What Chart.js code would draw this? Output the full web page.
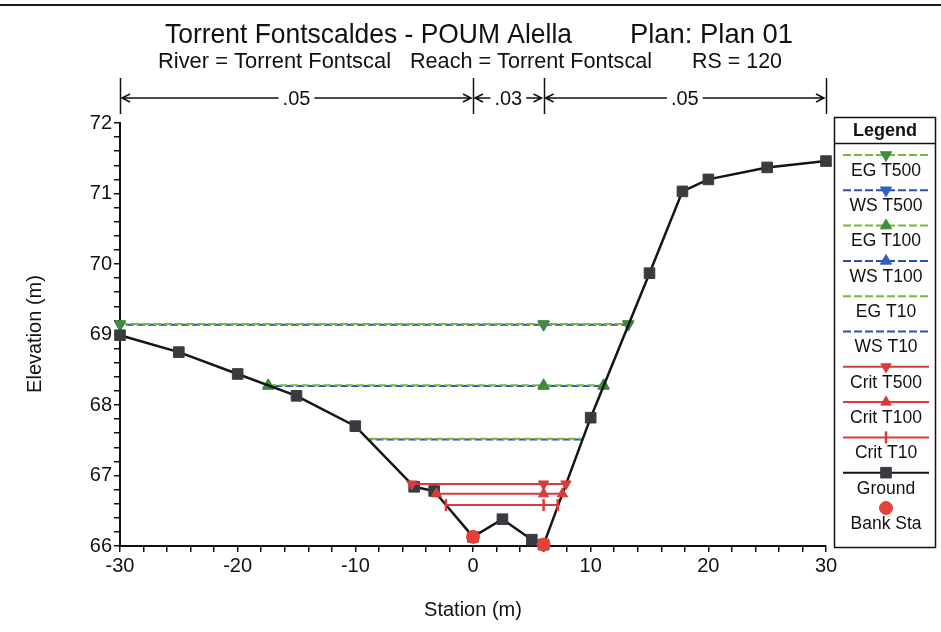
<!DOCTYPE html>
<html>
<head>
<meta charset="utf-8">
<script src="https://cdn.jsdelivr.net/npm/chart.js@4.4.1/dist/chart.umd.min.js"></script>
<style>
  html,body{margin:0;padding:0;background:#fff;}
  canvas{display:block;}
</style>
</head>
<body>
<canvas id="c" width="941" height="632"></canvas>
<script>
// ---------------- DATA ----------------
const titleMain = 'Torrent Fontscaldes - POUM Alella';
const titlePlan = 'Plan: Plan 01';
const subRiver = 'River = Torrent Fontscal';
const subReach = 'Reach = Torrent Fontscal';
const subRS = 'RS = 120';
const xTitle = 'Station (m)';
const yTitle = 'Elevation (m)';

const groundStation = [-30, -25, -20, -15, -10, -5, -3.3, 0, 2.5, 5, 6, 10, 15, 17.8, 20, 25, 30];
const groundElev    = [68.99, 68.75, 68.44, 68.13, 67.70, 66.84, 66.78, 66.13, 66.38, 66.09, 66.02, 67.82, 69.87, 71.03, 71.20, 71.37, 71.46];

const bankStation = [0, 6];
const bankElev    = [66.13, 66.02];

const egT500Station = [-30, 6, 13.2];   const egT500Elev = [69.15, 69.15, 69.15];
const wsT500Station = [-30, 6, 13.2];   const wsT500Elev = [69.14, 69.14, 69.14];
const egT100Station = [-17.4, 6, 11.1]; const egT100Elev = [68.28, 68.28, 68.28];
const wsT100Station = [-17.4, 6, 11.1]; const wsT100Elev = [68.27, 68.27, 68.27];
const egT10Station  = [-8.8, 9.3];      const egT10Elev  = [67.52, 67.52];
const wsT10Station  = [-8.8, 9.3];      const wsT10Elev  = [67.51, 67.51];
const critT500Station = [-5.2, 6, 7.9]; const critT500Elev = [66.88, 66.88, 66.88];
const critT100Station = [-3.1, 6, 7.6]; const critT100Elev = [66.74, 66.74, 66.74];
const critT10Station  = [-2.3, 6, 7.2]; const critT10Elev  = [66.58, 66.58, 66.58];

const nBreaks = [-30, 0, 6, 30];
const nValues = ['.05', '.03', '.05'];

const xMin = -30, xMax = 30, xStep = 2, xLabelEvery = 10;
const yMin = 66, yMax = 72, yStep = 0.2;

// ---------------- STYLES ----------------
const EG_LINE = '#7cb53c', EG_MARK = '#3f8c3a';
const WS_LINE = '#2d4fb4', WS_MARK = '#2f5fc0';
const CRIT = '#d93a3a';
const GROUND = '#151515', GROUND_MARK = '#383c40';
const BANK = '#e3413a';
const FONT = '"Liberation Sans", Arial, sans-serif';

function pts(st, el) { return st.map((s, i) => ({ x: s, y: el[i] })); }

function mk(label, st, el, o) {
  return Object.assign({
    label, data: pts(st, el), showLine: true, borderWidth: 2,
    borderDash: [], pointStyle: false, rotation: 0, pointRadius: 0,
    pointBorderWidth: 1, pointHoverRadius: 0, clip: false
  }, o);
}

const datasets = [
  mk('Bank Sta', bankStation, bankElev, { showLine: false, borderColor: BANK, pointStyle: 'circle', pointRadius: 6.5, pointBackgroundColor: BANK, pointBorderColor: BANK, order: 0 }),
  mk('Crit T500', critT500Station, critT500Elev, { borderColor: CRIT, pointStyle: 'triangle', rotation: 180, pointRadius: 6, pointBackgroundColor: CRIT, pointBorderColor: CRIT, order: 1 }),
  mk('Crit T100', critT100Station, critT100Elev, { borderColor: CRIT, pointStyle: 'triangle', pointRadius: 6, pointBackgroundColor: CRIT, pointBorderColor: CRIT, order: 2 }),
  mk('Crit T10', critT10Station, critT10Elev, { borderColor: CRIT, pointStyle: 'line', rotation: 90, pointRadius: 6, pointBorderWidth: 2.5, pointBackgroundColor: CRIT, pointBorderColor: CRIT, order: 3 }),
  mk('EG T500', egT500Station, egT500Elev, { borderColor: EG_LINE, borderDash: [8, 3], pointStyle: 'triangle', rotation: 180, pointRadius: 6.5, pointBackgroundColor: EG_MARK, pointBorderColor: EG_MARK, order: 5 }),
  mk('WS T500', wsT500Station, wsT500Elev, { borderColor: WS_LINE, borderDash: [8, 3], borderDashOffset: 5, pointStyle: 'triangle', rotation: 180, pointRadius: 6.5, pointBackgroundColor: WS_MARK, pointBorderColor: WS_MARK, order: 6 }),
  mk('EG T100', egT100Station, egT100Elev, { borderColor: EG_LINE, borderDash: [8, 3], pointStyle: 'triangle', pointRadius: 6.5, pointBackgroundColor: EG_MARK, pointBorderColor: EG_MARK, order: 7 }),
  mk('WS T100', wsT100Station, wsT100Elev, { borderColor: WS_LINE, borderDash: [8, 3], borderDashOffset: 5, pointStyle: 'triangle', pointRadius: 6.5, pointBackgroundColor: WS_MARK, pointBorderColor: WS_MARK, order: 8 }),
  mk('EG T10', egT10Station, egT10Elev, { borderColor: EG_LINE, borderDash: [8, 3], order: 9 }),
  mk('WS T10', wsT10Station, wsT10Elev, { borderColor: WS_LINE, borderDash: [8, 3], borderDashOffset: 5, order: 10 }),
  mk('Ground', groundStation, groundElev, { borderColor: GROUND, borderWidth: 2.5, pointStyle: 'rect', pointRadius: 7.5, pointBackgroundColor: GROUND_MARK, pointBorderColor: GROUND_MARK, order: 4 })
];

const legendOrder = ['EG T500', 'WS T500', 'EG T100', 'WS T100', 'EG T10', 'WS T10', 'Crit T500', 'Crit T100', 'Crit T10', 'Ground', 'Bank Sta'];

function drawFit(ctx, text, x, y, size, width, bold) {
  ctx.save();
  ctx.font = (bold ? 'bold ' : '') + size + 'px ' + FONT;
  const w = ctx.measureText(text).width;
  const sx = width ? width / w : 1;
  ctx.translate(x, y);
  ctx.scale(sx, 1);
  ctx.textAlign = 'left';
  ctx.textBaseline = 'middle';
  ctx.fillStyle = '#111';
  ctx.fillText(text, 0, 0);
  ctx.restore();
}

const decor = {
  id: 'decor',
  afterDraw(chart) {
    const ctx = chart.ctx;
    const xs = chart.scales.x;
    const ca = chart.chartArea;
    ctx.save();
    // top border line
    ctx.fillStyle = '#1a1a1a';
    ctx.fillRect(0, 4, 941, 2);

    // titles
    drawFit(ctx, titleMain, 165, 35, 28, 407);
    drawFit(ctx, titlePlan, 630, 35, 28, 163);
    drawFit(ctx, subRiver, 158, 62, 22, 233);
    drawFit(ctx, subReach, 410, 62, 22, 242);
    drawFit(ctx, subRS, 692, 62, 22, 90);

    // Manning n annotation
    const yA = 98;
    ctx.strokeStyle = '#111';
    ctx.fillStyle = '#111';
    ctx.lineWidth = 1.5;
    nBreaks.forEach(b => {
      const px = Math.round(xs.getPixelForValue(b)) + 0.5;
      ctx.beginPath(); ctx.moveTo(px, 78); ctx.lineTo(px, 114); ctx.stroke();
    });
    for (let i = 0; i < nValues.length; i++) {
      const x1 = xs.getPixelForValue(nBreaks[i]) + 2;
      const x2 = xs.getPixelForValue(nBreaks[i + 1]) - 2;
      const c = (x1 + x2) / 2;
      ctx.font = '20px ' + FONT;
      const w = ctx.measureText(nValues[i]).width;
      drawFit(ctx, nValues[i], c - w / 2, yA + 1, 20, 0);
      ctx.beginPath();
      const l1 = c - w / 2 - 4, l2 = c + w / 2 + 4;
      if (l1 > x1) { ctx.moveTo(x1, yA); ctx.lineTo(l1, yA); }
      if (l2 < x2) { ctx.moveTo(l2, yA); ctx.lineTo(x2, yA); }
      // arrowheads
      ctx.moveTo(x1 + 8, yA - 4); ctx.lineTo(x1, yA); ctx.lineTo(x1 + 8, yA + 4);
      ctx.moveTo(x2 - 8, yA - 4); ctx.lineTo(x2, yA); ctx.lineTo(x2 - 8, yA + 4);
      ctx.stroke();
    }

    // axis titles
    ctx.fillStyle = '#111';
    ctx.font = '20px ' + FONT;
    ctx.textAlign = 'center';
    ctx.textBaseline = 'middle';
    ctx.fillText(xTitle, (ca.left + ca.right) / 2, 610);
    ctx.save();
    ctx.translate(35, 334);
    ctx.rotate(-Math.PI / 2);
    ctx.fillText(yTitle, 0, 0);
    ctx.restore();

    // legend
    const bx = 834.5, by = 117.5, bw = 101, bh = 430;
    ctx.lineWidth = 1.5;
    ctx.strokeStyle = '#111';
    ctx.strokeRect(bx, by, bw, bh);
    ctx.beginPath(); ctx.moveTo(bx, 143.5); ctx.lineTo(bx + bw, 143.5); ctx.stroke();
    ctx.font = 'bold 18px ' + FONT;
    ctx.fillText('Legend', bx + bw / 2, 131);
    const cx = 886;
    legendOrder.forEach((name, i) => {
      const ds = datasets.find(d => d.label === name);
      const ly = 155 + i * 35.3;
      if (ds.showLine !== false) {
        ctx.save();
        ctx.strokeStyle = ds.borderColor;
        ctx.lineWidth = 2;
        ctx.setLineDash(ds.borderDash || []);
        ctx.beginPath(); ctx.moveTo(843, ly); ctx.lineTo(929, ly); ctx.stroke();
        ctx.restore();
      }
      if (ds.pointStyle) {
        ctx.save();
        ctx.fillStyle = ds.pointBackgroundColor;
        ctx.strokeStyle = ds.pointBorderColor;
        ctx.lineWidth = ds.pointBorderWidth;
        Chart.helpers.drawPoint(ctx, { pointStyle: ds.pointStyle, rotation: ds.rotation, radius: ds.pointRadius, borderWidth: ds.pointBorderWidth }, cx, ly);
        ctx.restore();
      }
      ctx.fillStyle = '#111';
      ctx.font = '17.5px ' + FONT;
      ctx.fillText(name, cx, ly + 16);
    });
    ctx.restore();
  }
};

new Chart(document.getElementById('c'), {
  type: 'scatter',
  data: { datasets },
  plugins: [decor],
  options: {
    responsive: false,
    devicePixelRatio: 1,
    animation: false,
    events: [],
    layout: { padding: { left: 60, top: 123, right: 115, bottom: 46 } },
    plugins: { legend: { display: false }, tooltip: { enabled: false }, title: { display: false } },
    scales: {
      x: {
        type: 'linear', min: xMin, max: xMax,
        afterFit: s => { s.height = 40; },
        ticks: {
          stepSize: xStep, autoSkip: false, maxRotation: 0, color: '#111', padding: 2,
          font: { family: FONT, size: 20 },
          callback: v => (Math.abs(v / xLabelEvery - Math.round(v / xLabelEvery)) < 1e-6 ? String(Math.round(v)) : '')
        },
        grid: { drawOnChartArea: false, drawTicks: true, tickLength: 6, color: '#111', lineWidth: 1.5 },
        border: { display: true, color: '#111', width: 2 }
      },
      y: {
        type: 'linear', min: yMin, max: yMax,
        afterFit: s => { s.width = 60; },
        ticks: {
          stepSize: yStep, autoSkip: false, color: '#111', padding: 2,
          font: { family: FONT, size: 20 },
          callback: v => (Math.abs(v - Math.round(v)) < 1e-6 ? String(Math.round(v)) : '')
        },
        grid: { drawOnChartArea: false, drawTicks: true, tickLength: 6, color: '#111', lineWidth: 1.5 },
        border: { display: true, color: '#111', width: 2 }
      }
    }
  }
});
</script>
</body>
</html>
